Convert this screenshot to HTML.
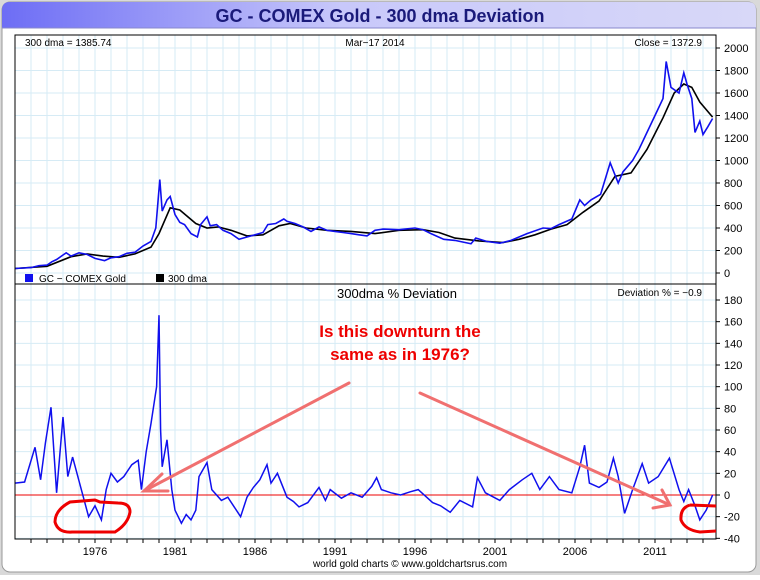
<!DOCTYPE html>
<html><head><meta charset="utf-8"><style>
body{margin:0;background:#fff;width:760px;height:575px;overflow:hidden;font-family:"Liberation Sans",sans-serif}
svg text{font-family:"Liberation Sans",sans-serif}
</style></head><body>
<svg id="c" width="760" height="575" xmlns="http://www.w3.org/2000/svg">
<defs><linearGradient id="hg" x1="0" x2="1"><stop offset="0" stop-color="#6d6df5"/><stop offset="0.45" stop-color="#c8c8fa"/><stop offset="1" stop-color="#d8d8f8"/></linearGradient></defs>
<rect x="0" y="0" width="760" height="575" fill="#d9d9d9"/>
<rect x="2" y="2" width="754" height="570" rx="8" fill="#ffffff" stroke="#999"/>
<path d="M2,28 L2,10 Q2,2 10,2 L748,2 Q756,2 756,10 L756,28 Z" fill="url(#hg)"/>
<line x1="2" y1="28" x2="756" y2="28" stroke="#8888cc"/>
<text x="380" y="22" text-anchor="middle" font-size="18" font-weight="bold" fill="#1a1a7a">GC - COMEX Gold - 300 dma Deviation</text>
<g id="grid"></g>
<g id="plots"></g>
<g id="axes"></g>
</svg>
<script>
const priceYears=[1971.0,1972.0,1972.5,1973.0,1973.3,1973.6,1974.0,1974.2,1974.5,1975.0,1975.5,1976.0,1976.6,1977.0,1977.5,1978.0,1978.5,1979.0,1979.5,1979.8,1980.05,1980.2,1980.5,1980.7,1981.0,1981.3,1981.6,1982.0,1982.4,1982.6,1983.0,1983.2,1983.6,1984.0,1984.5,1985.0,1985.5,1986.0,1986.5,1986.8,1987.3,1987.8,1988.0,1988.5,1989.0,1989.5,1990.0,1990.5,1991.0,1991.5,1992.0,1992.5,1993.0,1993.5,1994.0,1995.0,1996.0,1996.5,1997.0,1997.8,1998.5,1999.5,1999.8,2000.5,2001.3,2002.0,2002.5,2003.0,2004.0,2004.5,2005.0,2005.8,2006.3,2006.6,2007.0,2007.6,2008.2,2008.7,2009.0,2009.6,2010.0,2010.5,2011.0,2011.5,2011.7,2012.0,2012.5,2012.8,2013.0,2013.3,2013.5,2013.8,2014.0,2014.3,2014.6];
const priceValues=[40,48,65,70,100,120,160,180,150,180,165,130,110,135,145,175,185,240,280,400,830,550,650,680,520,450,430,350,320,430,500,420,430,380,350,300,320,340,360,430,440,480,460,440,410,370,410,380,370,360,350,340,330,380,390,385,400,385,350,300,290,260,310,280,265,290,320,350,400,395,430,480,650,600,650,700,980,800,900,1000,1100,1250,1400,1550,1880,1650,1600,1780,1680,1550,1250,1350,1230,1300,1373];
const dmaYears=[1971,1973,1974.5,1975.5,1976.5,1977.5,1978.5,1979.5,1980.0,1980.7,1981.3,1982.3,1983,1983.7,1984.5,1985.5,1986.5,1987.5,1988.2,1989.2,1990.5,1992,1993.5,1995,1996.5,1997.5,1998.5,2000,2001.5,2002.5,2003.5,2004.5,2005.5,2006.5,2007.5,2008.5,2009.5,2010.5,2011.5,2012.2,2012.8,2013.3,2013.8,2014.6];
const dmaValues=[40,60,145,170,150,140,170,230,350,580,560,440,400,410,380,330,340,420,440,400,380,370,350,380,385,360,310,285,270,300,340,390,430,540,640,860,890,1100,1380,1600,1680,1650,1520,1386];
const devYears=[1971.0,1971.6,1972.25,1972.6,1972.9,1973.25,1973.6,1974.0,1974.3,1974.6,1975.2,1975.6,1976.0,1976.4,1976.7,1977.0,1977.4,1977.8,1978.3,1978.7,1978.9,1979.2,1979.5,1979.85,1980.0,1980.1,1980.2,1980.5,1980.8,1981.0,1981.4,1981.7,1982.0,1982.3,1982.5,1983.0,1983.3,1983.9,1984.3,1984.7,1985.1,1985.5,1985.9,1986.3,1986.75,1987.0,1987.4,1988.0,1988.4,1988.75,1989.3,1990.0,1990.4,1990.7,1991.4,1992.0,1992.7,1993.3,1993.6,1993.9,1994.5,1995.1,1995.7,1996.2,1997.1,1997.6,1998.2,1998.8,1999.6,1999.9,2000.4,2001.3,2001.9,2002.7,2003.3,2003.8,2004.4,2005.0,2005.8,2006.3,2006.6,2006.9,2007.5,2008.0,2008.4,2008.7,2009.1,2009.6,2010.2,2010.6,2011.2,2011.9,2012.5,2012.8,2013.1,2013.5,2013.8,2014.2,2014.6];
const devValues=[11,12,44,14,48,81,2,72,17,35,2,-20,-10,-23,5,20,12,17,28,32,5,40,66,100,166,60,26,51,5,-14,-26,-18,-23,-14,17,30,5,-5,-2,-11,-20,-2,7,14,28,11,20,-2,-6,-11,-7,7,-5,5,-3,2,-2,8,16,5,2,0,3,5,-7,-10,-16,-5,-11,16,2,-5,5,14,20,5,17,5,2,26,46,11,7,12,34,17,-17,5,29,11,17,34,5,-6,5,-10,-23,-14,0];
const priceTicks=[0,200,400,600,800,1000,1200,1400,1600,1800,2000];
const devTicks=[-40,-20,0,20,40,60,80,100,120,140,160,180];
const yearLabels=[1976,1981,1986,1991,1996,2001,2006,2011];

const NS='http://www.w3.org/2000/svg';
const L=15,R=716,T1=35,B1=284,B2=539;
const xs=y=>95+(y-1976)*16;
const yp=v=>273-v*0.1125;
const yd=v=>495-v*1.0833;
function mk(tag,attrs,parent,text){const e=document.createElementNS(NS,tag);for(const k in attrs)e.setAttribute(k,attrs[k]);if(text!==undefined)e.textContent=text;document.getElementById(parent).appendChild(e);return e;}
// grid
for(let yr=1972;yr<=2014;yr++){const x=xs(yr);
const g=mk('line',{x1:x,y1:T1,x2:x,y2:B2,stroke:'#d6ebf5','stroke-width':1},'grid');

}
priceTicks.forEach(v=>{const g=mk('line',{x1:L,y1:yp(v),x2:R,y2:yp(v),stroke:'#d6ebf5'},'grid');

});
devTicks.forEach(v=>{const g=mk('line',{x1:L,y1:yd(v),x2:R,y2:yd(v),stroke:'#d6ebf5'},'grid');

});
// lines
function path(xsArr,vals,fy){return xsArr.map((y,i)=>(i?'L':'M')+xs(y).toFixed(1)+','+fy(vals[i]).toFixed(1)).join(' ');}
let p=mk('path',{d:path(dmaYears,dmaValues,yp),fill:'none',stroke:'#000','stroke-width':1.6},'plots');


p=mk('path',{d:path(priceYears,priceValues,yp),fill:'none',stroke:'#1010ee','stroke-width':1.6},'plots');


p=mk('line',{x1:L,y1:yd(0),x2:R,y2:yd(0),stroke:'#e00','stroke-width':1},'plots');


p=mk('path',{d:path(devYears,devValues,yd),fill:'none',stroke:'#1010ee','stroke-width':1.5},'plots');


// frame
p=mk('rect',{x:L,y:T1,width:R-L,height:B2-T1,fill:'none',stroke:'#000'},'axes');


p=mk('line',{x1:L,y1:B1,x2:R,y2:B1,stroke:'#000'},'axes');


priceTicks.forEach(v=>{mk('line',{x1:R,y1:yp(v),x2:R+4,y2:yp(v),stroke:'#000'},'axes');
const t=mk('text',{x:R+8,y:yp(v)+4,'font-size':11},'axes',String(v));

});
devTicks.forEach(v=>{mk('line',{x1:R,y1:yd(v),x2:R+4,y2:yd(v),stroke:'#000'},'axes');
const t=mk('text',{x:R+8,y:yd(v)+4,'font-size':11},'axes',String(v));

});
for(let yr=1972;yr<=2014;yr++){mk('line',{x1:xs(yr),y1:B2,x2:xs(yr),y2:B2+4,stroke:'#000'},'axes');}
yearLabels.forEach(yr=>{const t=mk('text',{x:xs(yr),y:555,'font-size':11,'text-anchor':'middle'},'axes',String(yr));

});
</script>
<svg style="position:absolute;left:0;top:0" width="760" height="575" xmlns="http://www.w3.org/2000/svg">
<text x="25" y="46" font-size="10">300 dma = 1385.74</text>
<text x="375" y="46" font-size="10" text-anchor="middle">Mar−17  2014</text>
<text x="702" y="46" font-size="10" text-anchor="end">Close = 1372.9</text>
<rect x="25" y="274" width="8" height="8" fill="#1010ee"/>
<text x="39" y="282" font-size="10">GC − COMEX Gold</text>
<rect x="156" y="274" width="8" height="8" fill="#000"/>
<text x="168" y="282" font-size="10">300 dma</text>
<text x="397" y="298" font-size="13" text-anchor="middle">300dma  %  Deviation</text>
<text x="702" y="296" font-size="10" text-anchor="end">Deviation % = −0.9</text>
<text x="400" y="337" font-size="17" font-weight="bold" fill="#ee0000" text-anchor="middle">Is this downturn the</text>
<text x="400" y="360" font-size="17" font-weight="bold" fill="#ee0000" text-anchor="middle">same as in 1976?</text>
<g stroke="#f07070" stroke-width="3" fill="none" stroke-linecap="round">
<line x1="349" y1="383" x2="144" y2="491"/><polyline points="162,474 144,491 168,491"/></g>
<g stroke="#f07070" stroke-width="3" fill="none" stroke-linecap="round">
<line x1="420" y1="393" x2="670" y2="505"/><polyline points="662,490 670,505 653,508"/></g>
<path d="M95,500 L70,502 Q55,510 55,522 Q58,533 72,532 L115,532 Q128,524 130,512 Q130,503 118,503 L100,502 Z" fill="none" stroke="#ee0000" stroke-width="3"/>
<path d="M690,505 Q680,508 681,520 Q685,530 700,532 L716,531 M716,506 L690,505" fill="none" stroke="#ee0000" stroke-width="3"/>
<text x="410" y="567" font-size="10" text-anchor="middle">world gold charts © www.goldchartsrus.com</text>
</svg>
</body></html>
